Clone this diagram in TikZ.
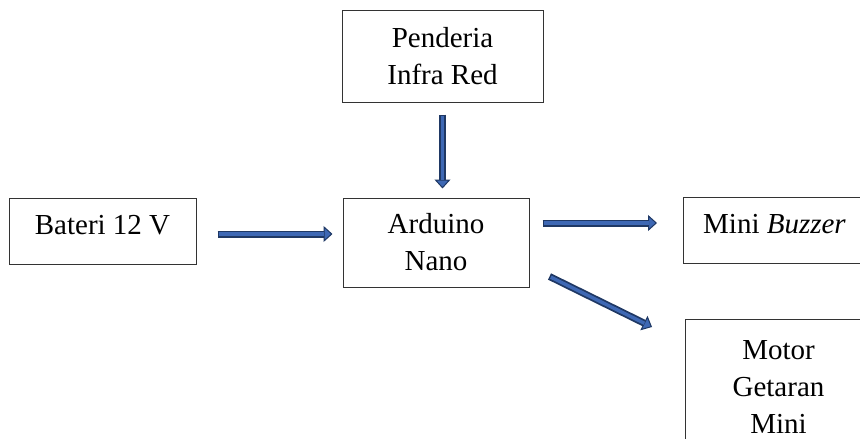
\documentclass[tikz,border=0pt]{standalone}
\usepackage{fontspec}
\setmainfont{Liberation Serif}
\definecolor{arrowdark}{RGB}{31, 56, 100}
\definecolor{arrowblue}{RGB}{62, 104, 180}
\usetikzlibrary{
  arrows.meta,
  calc,
  positioning,
}
\tikzset{
  blok/.style={draw=black!80,line width=1pt,rectangle,inner sep=0pt,align=center,
    font=\fontsize{29}{37}\selectfont},
  blokpanah/.style={draw=arrowdark,line width=7pt,
    -{Triangle[width=16pt,length=9pt,line width=1pt,fill=arrowblue]},
    postaction={draw=arrowblue,line width=3.4pt,-,shorten >=8.5pt,shorten <=1.5pt}},
}
\begin{document}
\begin{tikzpicture}[x=1pt,y=1pt]

        \clip (0,0) rectangle (860,-439);
        \useasboundingbox (0,0) rectangle (860,-439);

        \node[blok,minimum width=186,minimum height=89]    (arduino)    at (436,-242.5)   {Arduino\\Nano};
        \node[blok,minimum width=201,minimum height=92]    (penderia)   at (442.5,-56)    {Penderia\\Infra Red};
        \node[blok,minimum width=187,minimum height=66,text depth=12pt]    (bateri)     at (102.5,-231)   {Bateri 12 V};
        \node[blok,minimum width=182,minimum height=66,text depth=13pt,anchor=west]    (buzzer)     at (683,-230)     {Mini \textit{Buzzer}};
        \node[blok,minimum width=186,minimum height=136,anchor=north west]    (motor)      at (685,-319)     {Motor\\Getaran\\Mini};

        \draw[blokpanah] ($(penderia.south)+(0,-12)$) -- ($(penderia.south |- arduino.north)+(0,9)$);
        \draw[blokpanah] ($(bateri.east)+(21,-3)$) -- ($(bateri.east -| arduino.west)+(-10,-3)$);
        \draw[blokpanah] ($(arduino.east)+(13,19.5)$) -- ($(buzzer.west)+(-26,7)$);
        \draw[blokpanah] ($(arduino.south east)+(20,11)$) -- ($(motor.north west)+(-33,-8)$);

    \end{tikzpicture}
\end{document}
